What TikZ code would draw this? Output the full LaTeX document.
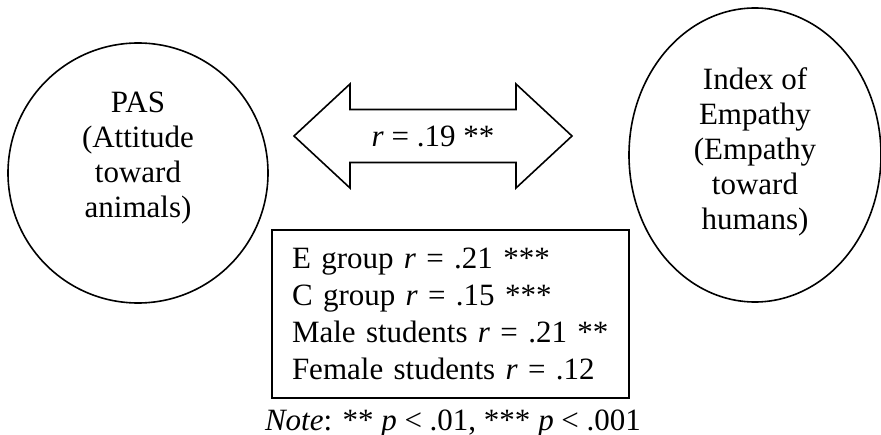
\documentclass[tikz,border=0pt]{standalone}
\usepackage{fontspec}
\setmainfont{Liberation Serif}
\usetikzlibrary{shapes.geometric}

\begin{document}
\begin{tikzpicture}[
    x=1pt, y=-1pt,
    every node/.style={font=\fontsize{31}{35}\selectfont},
    var/.style={draw, line width=1.6pt, inner sep=0pt},
    label/.style={align=center, inner sep=0pt}
]
\useasboundingbox[fill=white] (0,0) rectangle (881,435);

% the two measures
\node[var, circle, minimum size=260pt] (pas) at (138,173) {};
\node[label] (pastext) at (138,158.5) {PAS\\(Attitude\\toward\\animals)};

\node[var, ellipse, minimum width=252pt, minimum height=294pt] (empathy) at (755,155) {};
\node[label] (emptext) at (755,151.5) {Index of\\Empathy\\(Empathy\\toward\\humans)};

% correlation arrow
\node (rval) at (433,136) {\textit{r} = .19 **};
\draw[line width=1.6pt, shift={(rval.center)}]
    (-139,0) -- (-83,-52) -- (-83,-26.5) -- (83,-26.5) -- (83,-52) -- (139,0)
    -- (83,52) -- (83,26.5) -- (-83,26.5) -- (-83,52) -- cycle;

% subgroups
\node[draw, line width=2pt, text width=317pt, inner xsep=20pt, inner ysep=0pt,
      minimum height=168pt, align=left] (groups) at (450.5,314) {
    E group \textit{r} = .21 ***\\[2pt]
    C group \textit{r} = .15 ***\\[2pt]
    Male students \textit{r} = .21 **\\[2pt]
    Female students \textit{r} = .12
};

\node (note) at (453,423) {\textit{Note}: ** \textit{p} < .01, *** \textit{p} < .001};

\end{tikzpicture}
\end{document}
